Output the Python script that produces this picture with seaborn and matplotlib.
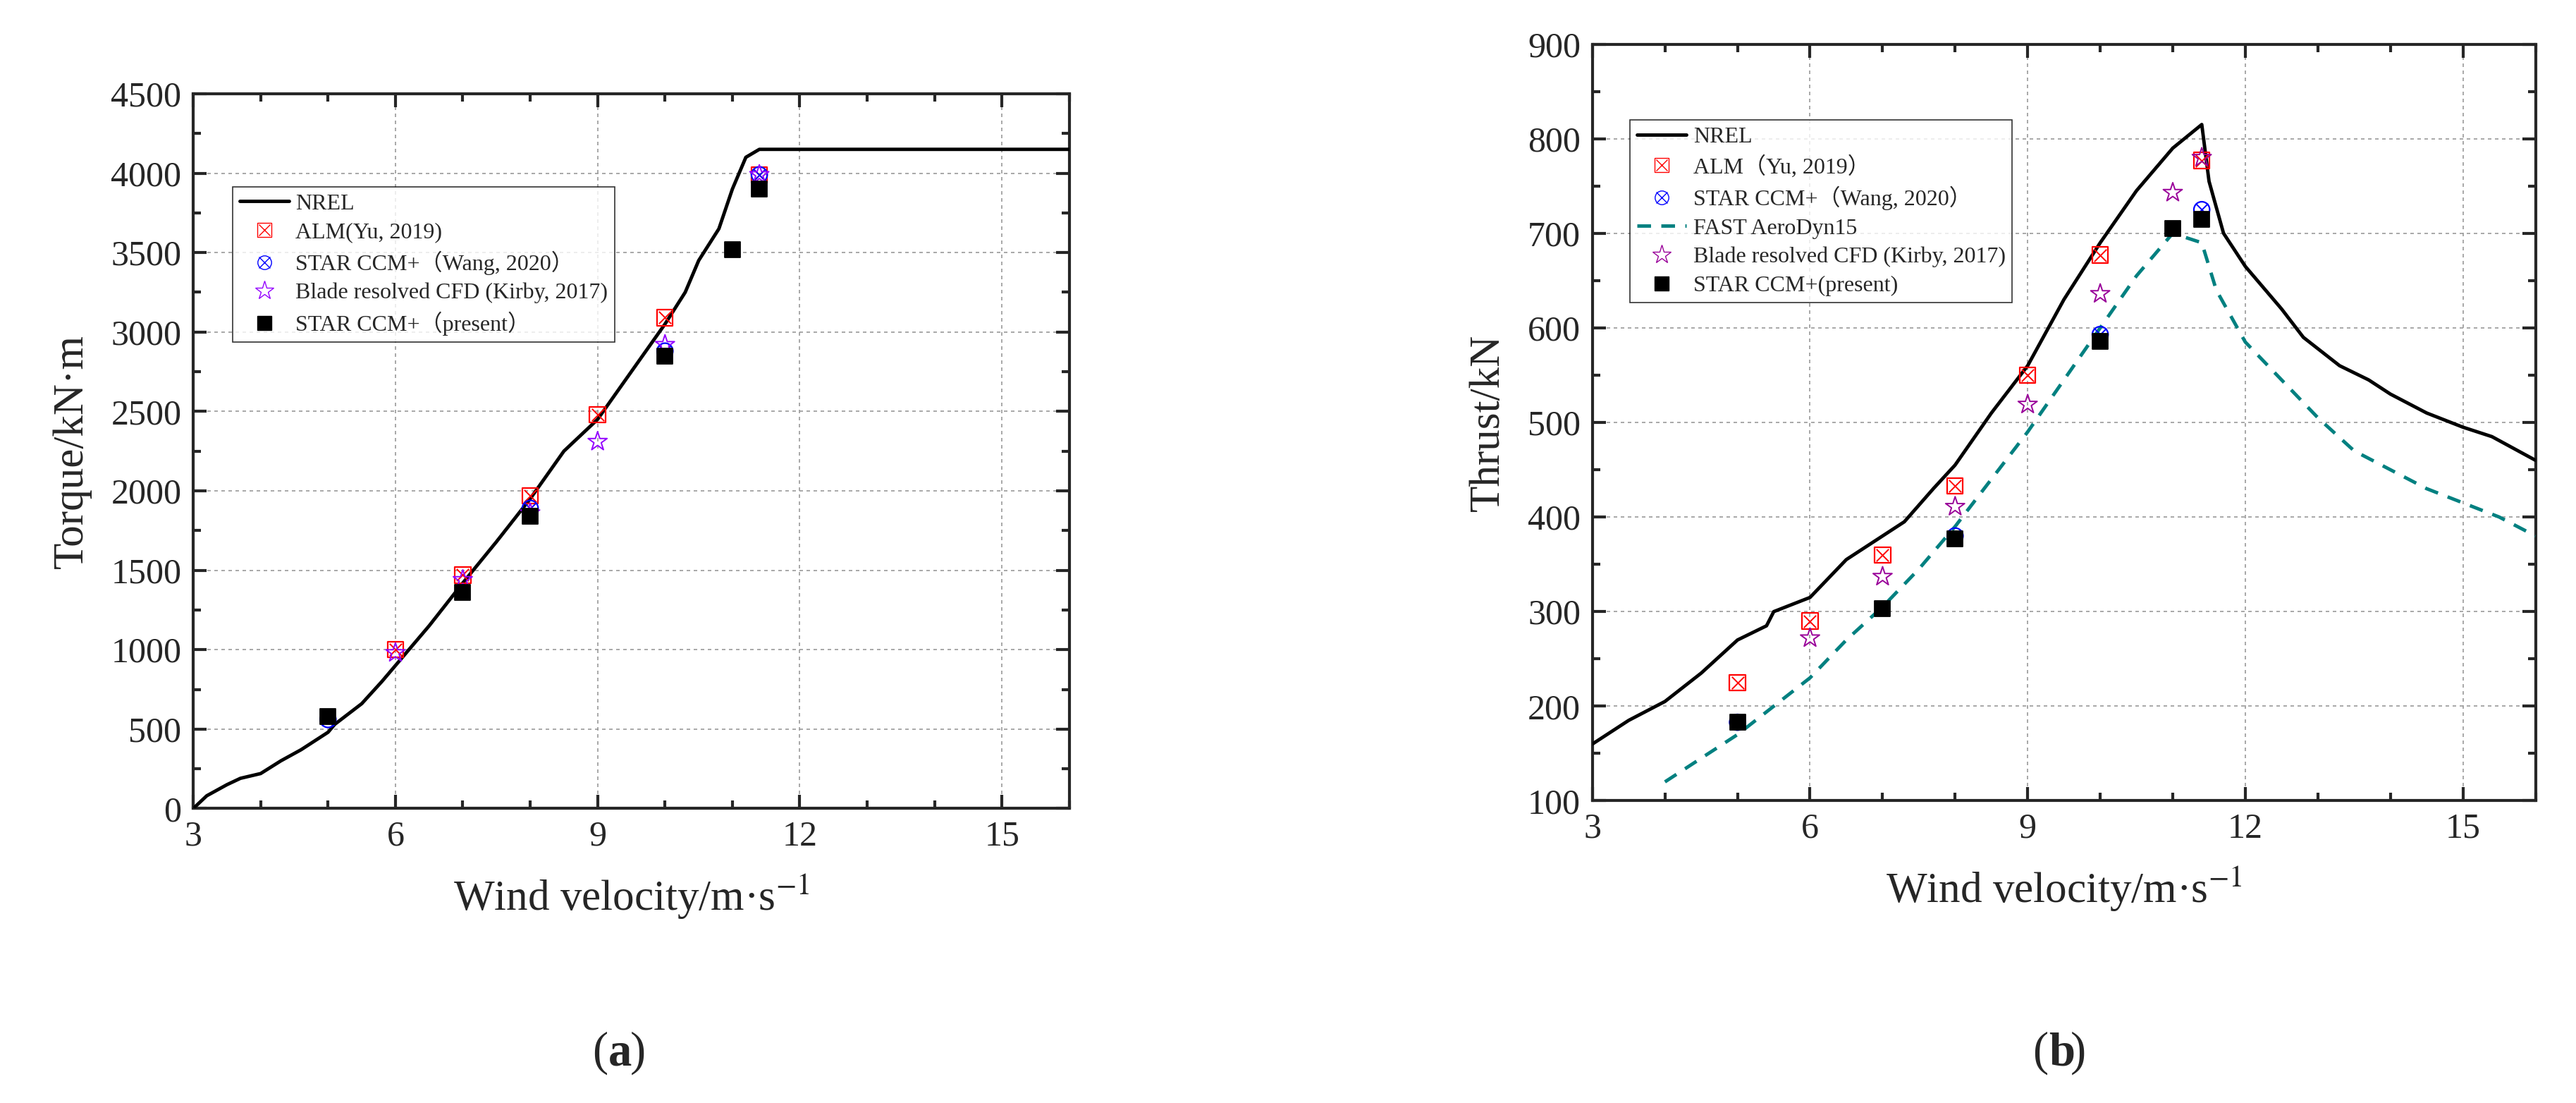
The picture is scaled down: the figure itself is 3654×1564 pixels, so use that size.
import numpy as np
import pandas as pd
import seaborn as sns
import matplotlib.pyplot as plt
from matplotlib.legend_handler import HandlerTuple
from matplotlib.lines import Line2D

# ---- torque data (a)
nrel_t_x = [3, 3.2, 3.5, 3.7, 4, 4.3, 4.6, 5, 5.1, 5.5, 5.8, 6, 6.5, 7, 7.5, 8, 8.5, 9, 9.5, 10, 10.3, 10.5, 10.8, 11, 11.2, 11.4, 16]
nrel_t_y = [0, 80, 150, 190, 220, 300, 370, 480, 530, 660, 800, 900, 1150, 1420, 1680, 1950, 2250, 2450, 2750, 3050, 3250, 3450, 3650, 3900, 4100, 4150, 4150]
alm_t_x = [6, 7, 8, 9, 10, 11.4]
alm_t_y = [1000, 1470, 1970, 2480, 3090, 3990]
wang_t_x = [5, 8, 10, 11.4]
wang_t_y = [560, 1890, 2880, 3990]
kirby_t_x = [6, 7, 8, 9, 10, 11.4]
kirby_t_y = [980, 1440, 1860, 2310, 2920, 3990]
pres_t_x = [5, 7, 8, 10, 11, 11.4]
pres_t_y = [580, 1360, 1840, 2850, 3520, 3900]

# ---- thrust data (b)
nrel_f_x = [3, 3.5, 4, 4.5, 5, 5.4, 5.5, 6, 6.5, 7, 7.3, 7.7, 8, 8.5, 9, 9.5, 10, 10.5, 11, 11.4, 11.5, 11.7, 12, 12.5, 12.8, 13.3, 13.7, 14, 14.5, 15, 15.4, 16]
nrel_f_y = [160, 185, 205, 235, 270, 285, 300, 315, 355, 380, 395, 430, 455, 510, 560, 630, 690, 745, 790, 815, 755, 700, 665, 620, 590, 560, 545, 530, 510, 495, 485, 460]
fast_x = [4, 4.5, 5, 5.5, 6, 6.5, 7, 7.5, 8, 8.5, 9, 9.5, 10, 10.5, 11, 11.4, 11.6, 12, 12.5, 13, 13.5, 14, 14.5, 15, 15.5, 16]
fast_y = [120, 145, 170, 200, 230, 270, 305, 345, 390, 440, 490, 545, 600, 655, 700, 690, 640, 585, 545, 505, 470, 450, 430, 415, 400, 380]
alm_f_x = [5, 6, 7, 8, 9, 10, 11.4]
alm_f_y = [225, 290, 360, 433, 550, 677, 777]
wang_f_x = [5, 8, 10, 11.4]
wang_f_y = [183, 380, 593, 725]
kirby_f_x = [6, 7, 8, 9, 10, 11, 11.4]
kirby_f_y = [272, 337, 411, 519, 636, 743, 780]
pres_f_x = [5, 7, 8, 10, 11, 11.4]
pres_f_y = [183, 303, 377, 586, 705, 715]

sns.set_theme(style="ticks")
plt.rcParams['font.family'] = ['Liberation Serif', 'DejaVu Serif']
plt.rcParams['mathtext.fontset'] = 'stix'

fig = plt.figure(figsize=(36.55, 15.64), dpi=100)
ax1 = fig.add_axes([0.075, 0.267, 0.34, 0.648])
ax2 = fig.add_axes([0.618, 0.274, 0.366, 0.686])

MS = 260


def crossed(ax, x, y, color, marker):
    sns.scatterplot(x=x, y=y, ax=ax, marker=marker, s=MS, facecolors='none',
                    edgecolor=color, linewidth=1.6, zorder=4)
    sns.scatterplot(x=x, y=y, ax=ax, marker='x', s=MS * 0.6, color=color,
                    linewidth=1.4, zorder=4)


def draw(ax, nx, ny, alm, wang, kirby, pres, kcol, fast=None):
    sns.lineplot(x=nx, y=ny, ax=ax, color='black', linewidth=3.5, zorder=3)
    if fast is not None:
        sns.lineplot(x=fast[0], y=fast[1], ax=ax, color='#008080', linewidth=3.5,
                     linestyle=(0, (4, 3)), zorder=3)
    crossed(ax, alm[0], alm[1], 'red', 's')
    crossed(ax, wang[0], wang[1], 'blue', 'o')
    sns.scatterplot(x=kirby[0], y=kirby[1], ax=ax, marker='*', s=MS * 1.6,
                    facecolors='none', edgecolor=kcol, linewidth=1.4, zorder=5)
    sns.scatterplot(x=pres[0], y=pres[1], ax=ax, marker='s', s=MS, color='black',
                    edgecolor='black', zorder=6)
    ax.set_xlim(3, 16)
    ax.set_xticks([3, 6, 9, 12, 15])
    ax.set_xticks(np.arange(3, 17, 1), minor=True)
    ax.grid(True, which='major', linestyle=(0, (3, 3)), color='#999999', linewidth=1.2)
    ax.tick_params(which='both', direction='in', top=True, right=True, width=3,
                   labelsize=36, pad=12)
    ax.tick_params(which='major', length=14)
    ax.tick_params(which='minor', length=8)
    for s in ax.spines.values():
        s.set_linewidth(3)
    ax.set_xlabel('Wind velocity/m·s$^{-1}$', fontsize=44, labelpad=20)


draw(ax1, nrel_t_x, nrel_t_y, (alm_t_x, alm_t_y), (wang_t_x, wang_t_y),
     (kirby_t_x, kirby_t_y), (pres_t_x, pres_t_y), '#9400FF')
ax1.set_ylim(0, 4500)
ax1.set_yticks(np.arange(0, 4501, 500))
ax1.set_yticks(np.arange(0, 4501, 250), minor=True)
ax1.set_ylabel('Torque/kN·m', fontsize=44, labelpad=20)

draw(ax2, nrel_f_x, nrel_f_y, (alm_f_x, alm_f_y), (wang_f_x, wang_f_y),
     (kirby_f_x, kirby_f_y), (pres_f_x, pres_f_y), '#990099', fast=(fast_x, fast_y))
ax2.set_ylim(100, 900)
ax2.set_yticks(np.arange(100, 901, 100))
ax2.set_yticks(np.arange(100, 901, 50), minor=True)
ax2.set_ylabel('Thrust/kN', fontsize=44, labelpad=20)


def handles(kcol, with_fast):
    nrel = Line2D([], [], color='black', linewidth=3.5)
    alm = (Line2D([], [], marker='s', mfc='none', mec='red', ms=14, ls='none'),
           Line2D([], [], marker='x', mec='red', ms=11, ls='none'))
    wang = (Line2D([], [], marker='o', mfc='none', mec='blue', ms=14, ls='none'),
            Line2D([], [], marker='x', mec='blue', ms=11, ls='none'))
    kirby = Line2D([], [], marker='*', mfc='none', mec=kcol, ms=20, ls='none')
    pres = Line2D([], [], marker='s', color='black', ms=14, ls='none')
    fast = Line2D([], [], color='#008080', linewidth=3.5, linestyle=(0, (4, 3)))
    if with_fast:
        return [nrel, alm, wang, fast, kirby, pres]
    return [nrel, alm, wang, kirby, pres]


lab1 = ['NREL', 'ALM(Yu, 2019)', 'STAR CCM+（Wang, 2020）',
        'Blade resolved CFD (Kirby, 2017)', 'STAR CCM+（present）']
lab2 = ['NREL', 'ALM（Yu, 2019）', 'STAR CCM+（Wang, 2020）', 'FAST AeroDyn15',
        'Blade resolved CFD (Kirby, 2017)', 'STAR CCM+(present)']
for ax, h, lab, anchor in [(ax1, handles('#9400FF', False), lab1, (0.045, 0.87)),
                           (ax2, handles('#990099', True), lab2, (0.04, 0.9))]:
    leg = ax.legend(h, lab, handler_map={tuple: HandlerTuple(ndivide=1)},
                    loc='upper left', bbox_to_anchor=anchor, fontsize=23,
                    frameon=True, fancybox=False, edgecolor='black',
                    handlelength=2.2, borderaxespad=0, labelspacing=0.35,
                    handletextpad=0.3, borderpad=0.3)
    leg.get_frame().set_linewidth(1.2)
    for t in leg.get_texts():
        t.set_family(['Liberation Serif', 'Noto Sans CJK SC'])

fig.text(0.236, 0.045, '(', fontsize=48, ha='right', va='center')
fig.text(0.236, 0.045, 'a', fontsize=48, ha='left', va='center', weight='bold')
fig.text(0.2445, 0.045, ')', fontsize=48, ha='left', va='center')
fig.text(0.795, 0.045, '(', fontsize=48, ha='right', va='center')
fig.text(0.795, 0.045, 'b', fontsize=48, ha='left', va='center', weight='bold')
fig.text(0.8035, 0.045, ')', fontsize=48, ha='left', va='center')

fig.savefig('out.png', dpi=100)
